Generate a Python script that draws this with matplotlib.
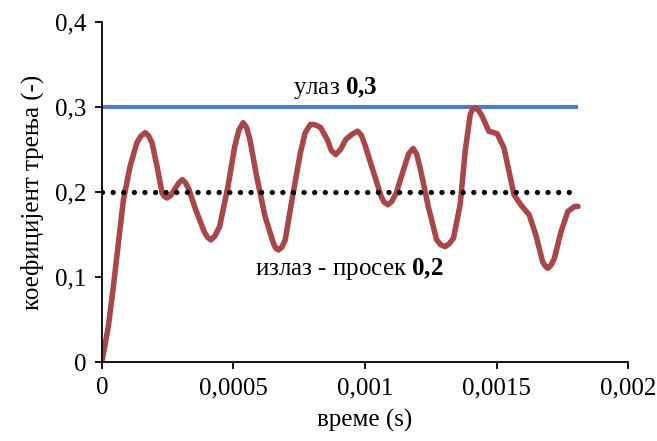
import numpy as np
import matplotlib
matplotlib.use("Agg")
import matplotlib.pyplot as plt
from matplotlib.ticker import FixedLocator, FixedFormatter

plt.rcParams['font.family'] = ['Liberation Serif', 'DejaVu Serif']
plt.rcParams['mathtext.fontset'] = 'custom'
plt.rcParams['mathtext.rm'] = 'Liberation Serif'
plt.rcParams['mathtext.bf'] = 'Liberation Serif:bold'

# input (constant) and output average
input_level = 0.3
output_mean = 0.2
line_end = 0.00181

# friction coefficient (time in ms, converted to s below)
time_ms = [0.0, 0.0245, 0.0437, 0.0629, 0.0821, 0.1074, 0.1331, 0.149, 0.165,
           0.178, 0.1906, 0.2098, 0.229, 0.238, 0.2482, 0.262, 0.28, 0.293,
           0.3057, 0.318, 0.3314, 0.3567, 0.389, 0.401, 0.4143, 0.429,
           0.4476, 0.4795, 0.5052, 0.521, 0.537, 0.550, 0.5627, 0.5884,
           0.6203, 0.6521, 0.661, 0.6713, 0.684, 0.697, 0.7227, 0.7545,
           0.773, 0.7929, 0.812, 0.8312, 0.8569, 0.872, 0.8888, 0.907,
           0.9271, 0.951, 0.972, 0.986, 0.9973, 1.0295, 1.0614, 1.073,
           1.0871, 1.102, 1.1189, 1.1507, 1.166, 1.183, 1.196, 1.2083,
           1.2405, 1.2723, 1.288, 1.3042, 1.320, 1.3364, 1.3617, 1.3809,
           1.4001, 1.41, 1.4193, 1.432, 1.445, 1.4707, 1.5025, 1.5282,
           1.5474, 1.5665, 1.5919, 1.6241, 1.6494, 1.6751, 1.685, 1.6943,
           1.707, 1.72, 1.7453, 1.771, 1.7967, 1.8094]
friction = [0.0, 0.0413, 0.0886, 0.1398, 0.191, 0.2303, 0.258, 0.266, 0.2698,
            0.266, 0.258, 0.2303, 0.1989, 0.195, 0.193, 0.196, 0.2048, 0.211,
            0.2146, 0.211, 0.2028, 0.1792, 0.1535, 0.147, 0.1437, 0.148,
            0.1594, 0.2067, 0.2539, 0.273, 0.2816, 0.276, 0.2618, 0.2185,
            0.1713, 0.1398, 0.134, 0.1319, 0.135, 0.1437, 0.191, 0.2461,
            0.270, 0.2796, 0.279, 0.276, 0.2618, 0.249, 0.2441, 0.250,
            0.2618, 0.268, 0.2716, 0.267, 0.258, 0.2264, 0.1949, 0.188,
            0.1851, 0.189, 0.1989, 0.2303, 0.245, 0.2512, 0.245, 0.2303,
            0.1831, 0.1437, 0.138, 0.1358, 0.139, 0.1457, 0.1851, 0.248,
            0.2914, 0.298, 0.2993, 0.296, 0.2894, 0.2716, 0.2686, 0.252,
            0.2244, 0.1969, 0.1851, 0.1733, 0.1496, 0.1181, 0.113, 0.1103,
            0.114, 0.1221, 0.1535, 0.1772, 0.1831, 0.1831]

x_ticks = [0, 0.0005, 0.001, 0.0015, 0.002]
x_labels = ['0', '0,0005', '0,001', '0,0015', '0,002']
y_ticks = [0, 0.1, 0.2, 0.3, 0.4]
y_labels = ['0', '0,1', '0,2', '0,3', '0,4']

t = np.array(time_ms) / 1000.0

fig = plt.figure(figsize=(6.57, 4.41), dpi=100)
ax = fig.add_axes([0.155, 0.179, 0.801, 0.771])

ax.plot([0, line_end], [input_level, input_level], color='#4F7FBA', lw=3.0,
        solid_capstyle='butt')
ax.plot(t, friction, color='#A8474A', lw=4.0, solid_joinstyle='round',
        solid_capstyle='round')
ax.plot([0, line_end], [output_mean, output_mean], color='black', lw=3.8,
        linestyle=(0, (0.01, 2.0)), dash_capstyle='round')

ax.set_xlim(0, 0.002)
ax.set_ylim(0, 0.4)
ax.xaxis.set_major_locator(FixedLocator(x_ticks))
ax.xaxis.set_major_formatter(FixedFormatter(x_labels))
ax.yaxis.set_major_locator(FixedLocator(y_ticks))
ax.yaxis.set_major_formatter(FixedFormatter(y_labels))

for s in ['top', 'right']:
    ax.spines[s].set_visible(False)
for s in ['left', 'bottom']:
    ax.spines[s].set_linewidth(1.3)
ax.tick_params(direction='out', length=5, width=1.3, labelsize=18, pad=6)

ax.set_xlabel('време (s)', fontsize=18, labelpad=7)
ax.set_ylabel('коефицијент трења (-)', fontsize=18, labelpad=8)

ax.text(0.000889, 0.322, 'улаз $\\mathbf{0{,}3}$', fontsize=18,
        ha='center', va='center')
ax.text(0.000939, 0.1095, 'излаз - просек $\\mathbf{0{,}2}$', fontsize=18,
        ha='center', va='center')

fig.savefig('out.png', dpi=100)
